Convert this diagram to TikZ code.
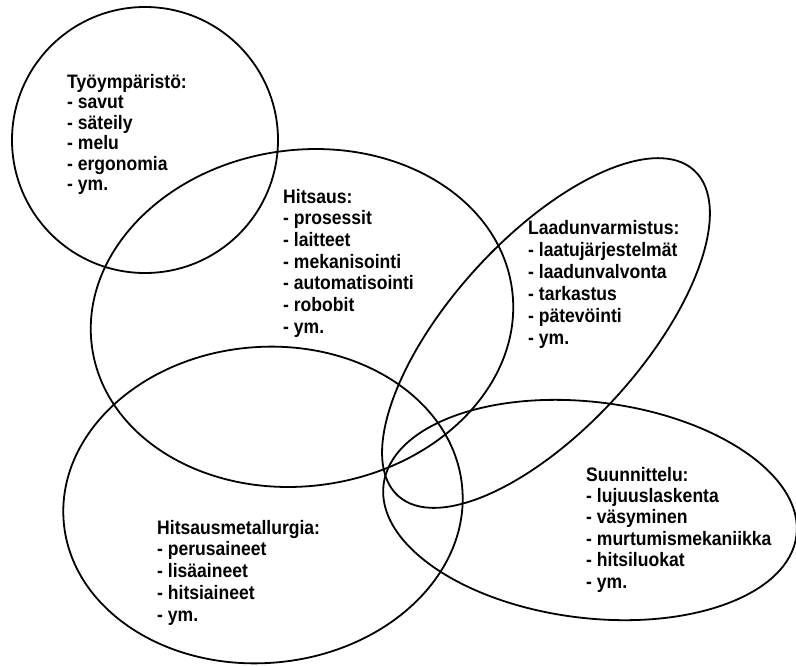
\documentclass[tikz,border=0pt]{standalone}
\usepackage{fontspec}
\setmainfont{Liberation Sans}[FakeStretch=0.9]
\begin{document}
\begin{tikzpicture}[x=1pt,y=-1pt,
  venn/.style={line width=1.8pt, draw=black},
  lbl/.style={inner sep=0pt, anchor=base west, font=\fontsize{19.5}{21.7}\selectfont\bfseries}]
\useasboundingbox (0,0) rectangle (796,665);
\fill[white] (0,0) rectangle (796,665);
% centres
\coordinate (cTyo) at (145,140);
\coordinate (cHit) at (302,318);
\coordinate (cLaa) at (546,333);
\coordinate (cSuu) at (590,510);
\coordinate (cMet) at (263,505);
% sets
\draw[venn] (cTyo) circle [radius=133pt];
\draw[venn, rotate around={8:(cHit)}] (cHit) ellipse [x radius=212pt, y radius=168pt];
\draw[venn, rotate around={47.7:(cLaa)}] (cLaa) ellipse [x radius=220pt, y radius=95pt];
\draw[venn, rotate around={-7:(cSuu)}] (cSuu) ellipse [x radius=208pt, y radius=108pt];
\draw[venn, rotate around={5:(cMet)}] (cMet) ellipse [x radius=200pt, y radius=158pt];
% labels
\node[lbl] (tTyo) at (67,88) {\fontsize{19.5}{20.5}\selectfont\begin{tabular}[t]{@{}l@{}}Työympäristö:\\- savut\\- säteily\\- melu\\- ergonomia\\- ym.\end{tabular}};
\node[lbl] (tHit) at (283,203) {\begin{tabular}[t]{@{}l@{}}Hitsaus:\\- prosessit\\- laitteet\\- mekanisointi\\- automatisointi\\- robobit\\- ym.\end{tabular}};
\node[lbl] (tLaa) at (528,234) {\fontsize{19.5}{22}\selectfont\begin{tabular}[t]{@{}l@{}}Laadunvarmistus:\\- laatujärjestelmät\\- laadunvalvonta\\- tarkastus\\- pätevöinti\\- ym.\end{tabular}};
\node[lbl] (tSuu) at (586,481) {\fontsize{19.5}{21.4}\selectfont\begin{tabular}[t]{@{}l@{}}Suunnittelu:\\- lujuuslaskenta\\- väsyminen\\- murtumismekaniikka\\- hitsiluokat\\- ym.\end{tabular}};
\node[lbl] (tMet) at (157,534) {\fontsize{19.5}{21.9}\selectfont\begin{tabular}[t]{@{}l@{}}Hitsausmetallurgia:\\- perusaineet\\- lisäaineet\\- hitsiaineet\\- ym.\end{tabular}};
\end{tikzpicture}
\end{document}
